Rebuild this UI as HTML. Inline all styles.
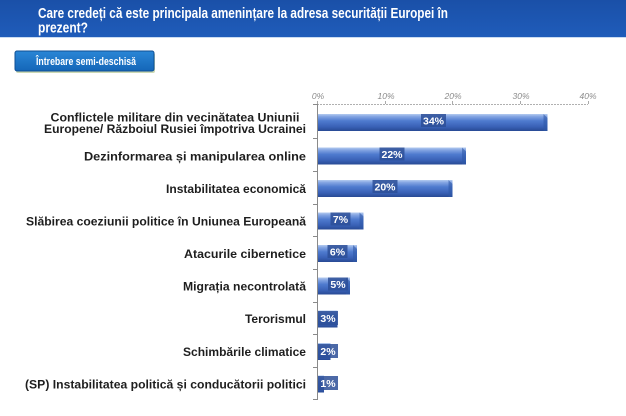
<!DOCTYPE html>
<html>
<head>
<meta charset="utf-8">
<style>
  html,body{margin:0;padding:0;background:#fff;}
  body{width:626px;height:416px;overflow:hidden;}
  svg{display:block;}
  .lbl{font-family:"Liberation Sans","DejaVu Sans",sans-serif;font-weight:bold;font-size:12px;fill:#1e1e1e;}
  .tick{font-family:"Liberation Sans",sans-serif;font-style:italic;font-size:8.5px;fill:#8a8a8a;}
  .dl{font-family:"Liberation Sans",sans-serif;font-weight:bold;font-size:10.5px;fill:#fff;}
</style>
</head>
<body>
<svg width="626" height="416" viewBox="0 0 626 416" xmlns="http://www.w3.org/2000/svg">
  <defs>
    <linearGradient id="hdr" x1="0" y1="0" x2="0" y2="1">
      <stop offset="0" stop-color="#1a50a8"/>
      <stop offset="1" stop-color="#1f5cba"/>
    </linearGradient>
    <linearGradient id="bar" x1="0" y1="0" x2="0" y2="1">
      <stop offset="0" stop-color="#b4cbf0"/>
      <stop offset="0.15" stop-color="#83a4e2"/>
      <stop offset="0.4" stop-color="#4f7bcf"/>
      <stop offset="0.75" stop-color="#3961b6"/>
      <stop offset="1" stop-color="#284a94"/>
    </linearGradient>
    <linearGradient id="btn" x1="0" y1="0" x2="0" y2="1">
      <stop offset="0" stop-color="#2a86d6"/>
      <stop offset="1" stop-color="#1466b8"/>
    </linearGradient>
  </defs>

  <!-- header -->
  <rect x="0" y="0" width="626" height="37" fill="url(#hdr)"/>
  <rect x="0" y="37" width="626" height="1" fill="#c9dbf2"/>
  <text x="38" y="18" font-family="'Liberation Sans',sans-serif" font-weight="bold" font-size="14.5" fill="#fff" textLength="410" lengthAdjust="spacingAndGlyphs">Care credeți că este principala amenințare  la adresa securității Europei în</text>
  <text x="38" y="32.5" font-family="'Liberation Sans',sans-serif" font-weight="bold" font-size="14.5" fill="#fff" textLength="50" lengthAdjust="spacingAndGlyphs">prezent?</text>

  <!-- button -->
  <rect x="16" y="53" width="139" height="20" rx="2" fill="#9ab36a" opacity="0.5"/>
  <rect x="15" y="51" width="139" height="20" rx="2" fill="url(#btn)" stroke="#0f4f94" stroke-width="1"/>
  <text x="36" y="65" font-family="'Liberation Sans',sans-serif" font-weight="bold" font-size="11" fill="#fff" textLength="100" lengthAdjust="spacingAndGlyphs">Întrebare semi-deschisă</text>

  <!-- top axis -->
  <line x1="317" y1="104.5" x2="588" y2="104.5" stroke="#b0b0b0" stroke-width="1" stroke-dasharray="2,1"/>
  <g stroke="#aaa" stroke-width="1">
    <line x1="317.5" y1="101" x2="317.5" y2="104"/>
    <line x1="385.5" y1="101" x2="385.5" y2="104"/>
    <line x1="452.5" y1="101" x2="452.5" y2="104"/>
    <line x1="520.5" y1="101" x2="520.5" y2="104"/>
    <line x1="588.5" y1="101" x2="588.5" y2="104"/>
  </g>
  <text class="tick" x="318" y="99" text-anchor="middle">0%</text>
  <text class="tick" x="386" y="99" text-anchor="middle">10%</text>
  <text class="tick" x="453" y="99" text-anchor="middle">20%</text>
  <text class="tick" x="521" y="99" text-anchor="middle">30%</text>
  <text class="tick" x="588" y="99" text-anchor="middle">40%</text>

  <!-- vertical axis -->
  <line x1="317.5" y1="104" x2="317.5" y2="400" stroke="#8a8a8a" stroke-width="1"/>
  <g stroke="#8a8a8a" stroke-width="1">
    <line x1="313" y1="104.5" x2="317" y2="104.5"/>
    <line x1="313" y1="138.5" x2="317" y2="138.5"/>
    <line x1="313" y1="171.5" x2="317" y2="171.5"/>
    <line x1="313" y1="204.5" x2="317" y2="204.5"/>
    <line x1="313" y1="236.5" x2="317" y2="236.5"/>
    <line x1="313" y1="269.5" x2="317" y2="269.5"/>
    <line x1="313" y1="302.5" x2="317" y2="302.5"/>
    <line x1="313" y1="334.5" x2="317" y2="334.5"/>
    <line x1="313" y1="367.5" x2="317" y2="367.5"/>
    <line x1="313" y1="399.5" x2="317" y2="399.5"/>
  </g>

  <!-- bars -->
  <g>
    <rect x="318" y="114" width="229.5" height="17" fill="url(#bar)"/>
    <polygon points="543.5,114 547.5,118 547.5,131 543.5,131" fill="#2f58a8" opacity="0.6"/>
    <rect x="318" y="147.5" width="148" height="17" fill="url(#bar)"/>
    <polygon points="462,147.5 466,151.5 466,164.5 462,164.5" fill="#2f58a8" opacity="0.6"/>
    <rect x="318" y="180" width="134.5" height="17" fill="url(#bar)"/>
    <polygon points="448.5,180 452.5,184 452.5,197 448.5,197" fill="#2f58a8" opacity="0.6"/>
    <rect x="318" y="212.5" width="45.5" height="17" fill="url(#bar)"/>
    <polygon points="359.5,212.5 363.5,216.5 363.5,229.5 359.5,229.5" fill="#2f58a8" opacity="0.6"/>
    <rect x="318" y="245" width="39" height="17" fill="url(#bar)"/>
    <polygon points="353,245 357,249 357,262 353,262" fill="#2f58a8" opacity="0.6"/>
    <rect x="318" y="277.5" width="32" height="17" fill="url(#bar)"/>
    <polygon points="346,277.5 350,281.5 350,294.5 346,294.5" fill="#2f58a8" opacity="0.6"/>
    <rect x="318" y="310.5" width="19.5" height="17" fill="url(#bar)"/>
    <rect x="318" y="343" width="12.5" height="17" fill="url(#bar)"/>
    <rect x="318" y="375.5" width="6" height="17" fill="url(#bar)"/>
  </g>

  <!-- data labels -->
  <g fill="#2d4f98" fill-opacity="0.85">
    <rect x="421" y="114" width="25" height="13"/>
    <rect x="379.5" y="147.5" width="25" height="13"/>
    <rect x="372.5" y="180" width="25" height="13"/>
    <rect x="330.5" y="212.5" width="20" height="13"/>
    <rect x="327.5" y="245" width="20" height="13"/>
    <rect x="328" y="277.5" width="20" height="13"/>
    <rect x="318" y="311" width="20" height="14"/>
    <rect x="318" y="344" width="20" height="14"/>
    <rect x="318" y="376" width="20" height="14"/>
  </g>
  <g class="dl" text-anchor="middle">
    <text x="433.5" y="124.5">34%</text>
    <text x="392" y="158">22%</text>
    <text x="385" y="190.5">20%</text>
    <text x="340.5" y="223">7%</text>
    <text x="337.5" y="255.5">6%</text>
    <text x="338" y="288">5%</text>
    <text x="328" y="322">3%</text>
    <text x="328" y="355">2%</text>
    <text x="328" y="387">1%</text>
  </g>

  <!-- category labels -->
  <text class="lbl" x="175" y="121.5" text-anchor="middle" textLength="249" lengthAdjust="spacingAndGlyphs">Conflictele militare din vecinătatea Uniunii</text>
  <text class="lbl" x="175" y="133" text-anchor="middle" textLength="262" lengthAdjust="spacingAndGlyphs">Europene/ Războiul Rusiei împotriva Ucrainei</text>
  <text class="lbl" x="306" y="160.5" text-anchor="end" textLength="222" lengthAdjust="spacingAndGlyphs">Dezinformarea și manipularea online</text>
  <text class="lbl" x="306" y="193" text-anchor="end" textLength="140" lengthAdjust="spacingAndGlyphs">Instabilitatea economică</text>
  <text class="lbl" x="306" y="225.5" text-anchor="end" textLength="280" lengthAdjust="spacingAndGlyphs">Slăbirea coeziunii politice în Uniunea Europeană</text>
  <text class="lbl" x="306" y="258" text-anchor="end" textLength="122" lengthAdjust="spacingAndGlyphs">Atacurile cibernetice</text>
  <text class="lbl" x="306" y="290.5" text-anchor="end" textLength="123" lengthAdjust="spacingAndGlyphs">Migrația necontrolată</text>
  <text class="lbl" x="306" y="323" text-anchor="end" textLength="61" lengthAdjust="spacingAndGlyphs">Terorismul</text>
  <text class="lbl" x="306" y="356" text-anchor="end" textLength="123" lengthAdjust="spacingAndGlyphs">Schimbările climatice</text>
  <text class="lbl" x="306" y="388.5" text-anchor="end" textLength="281" lengthAdjust="spacingAndGlyphs">(SP) Instabilitatea politică și conducătorii politici</text>
</svg>
</body>
</html>
